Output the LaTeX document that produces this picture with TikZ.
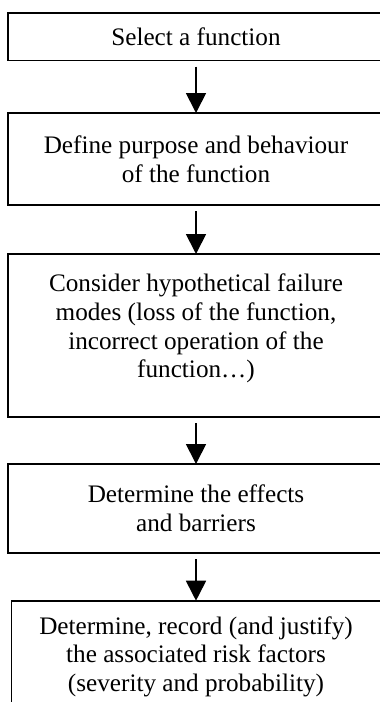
\documentclass[tikz,border=0pt]{standalone}
\usepackage{fontspec}
\setmainfont{Liberation Serif}
\usetikzlibrary{positioning}
\usetikzlibrary{arrows.meta}

\begin{document}
\begin{tikzpicture}[x=0.5pt,y=-0.5pt,
            box/.style={draw,line width=0.9pt,rectangle,align=center,
                minimum width=188pt,inner sep=0pt,outer sep=0pt,
                font=\fontsize{12.6}{14.35}\selectfont},
            flow/.style={line width=0.9pt,-{Triangle[length=10pt,width=10pt]}}
            ]
            % The frame
            \clip (0,0) rectangle (380,702);
            
            % The steps
            \node[box,minimum height=23.75pt,anchor=north] (select) at (196,13) {Select a function};
            \node[box,minimum height=46pt,below=26.25pt of select] (define) {Define purpose and behaviour\\of the function};
            \node[box,minimum height=81.5pt,text depth=9.5pt,below=24.5pt of define] (modes) {Consider hypothetical failure\\modes (loss of the function,\\incorrect operation of the\\function\dots)};
            \node[box,minimum height=44.5pt,below=23.5pt of modes] (effects) {Determine the effects\\and barriers};
            \node[box,minimum width=184.5pt,minimum height=56pt,below=23.85pt of effects] (risk) {Determine, record (and justify)\\the associated risk factors\\(severity and probability)};
            
            % The arrows
            \draw[flow] ([yshift=-3pt]select.south) -- (define.north);
            \draw[flow] ([yshift=-3pt]define.south) -- (modes.north);
            \draw[flow] ([yshift=-3pt]modes.south) -- (effects.north);
            \draw[flow] ([yshift=-3pt]effects.south) -- (risk.north);
        \end{tikzpicture}
\end{document}
